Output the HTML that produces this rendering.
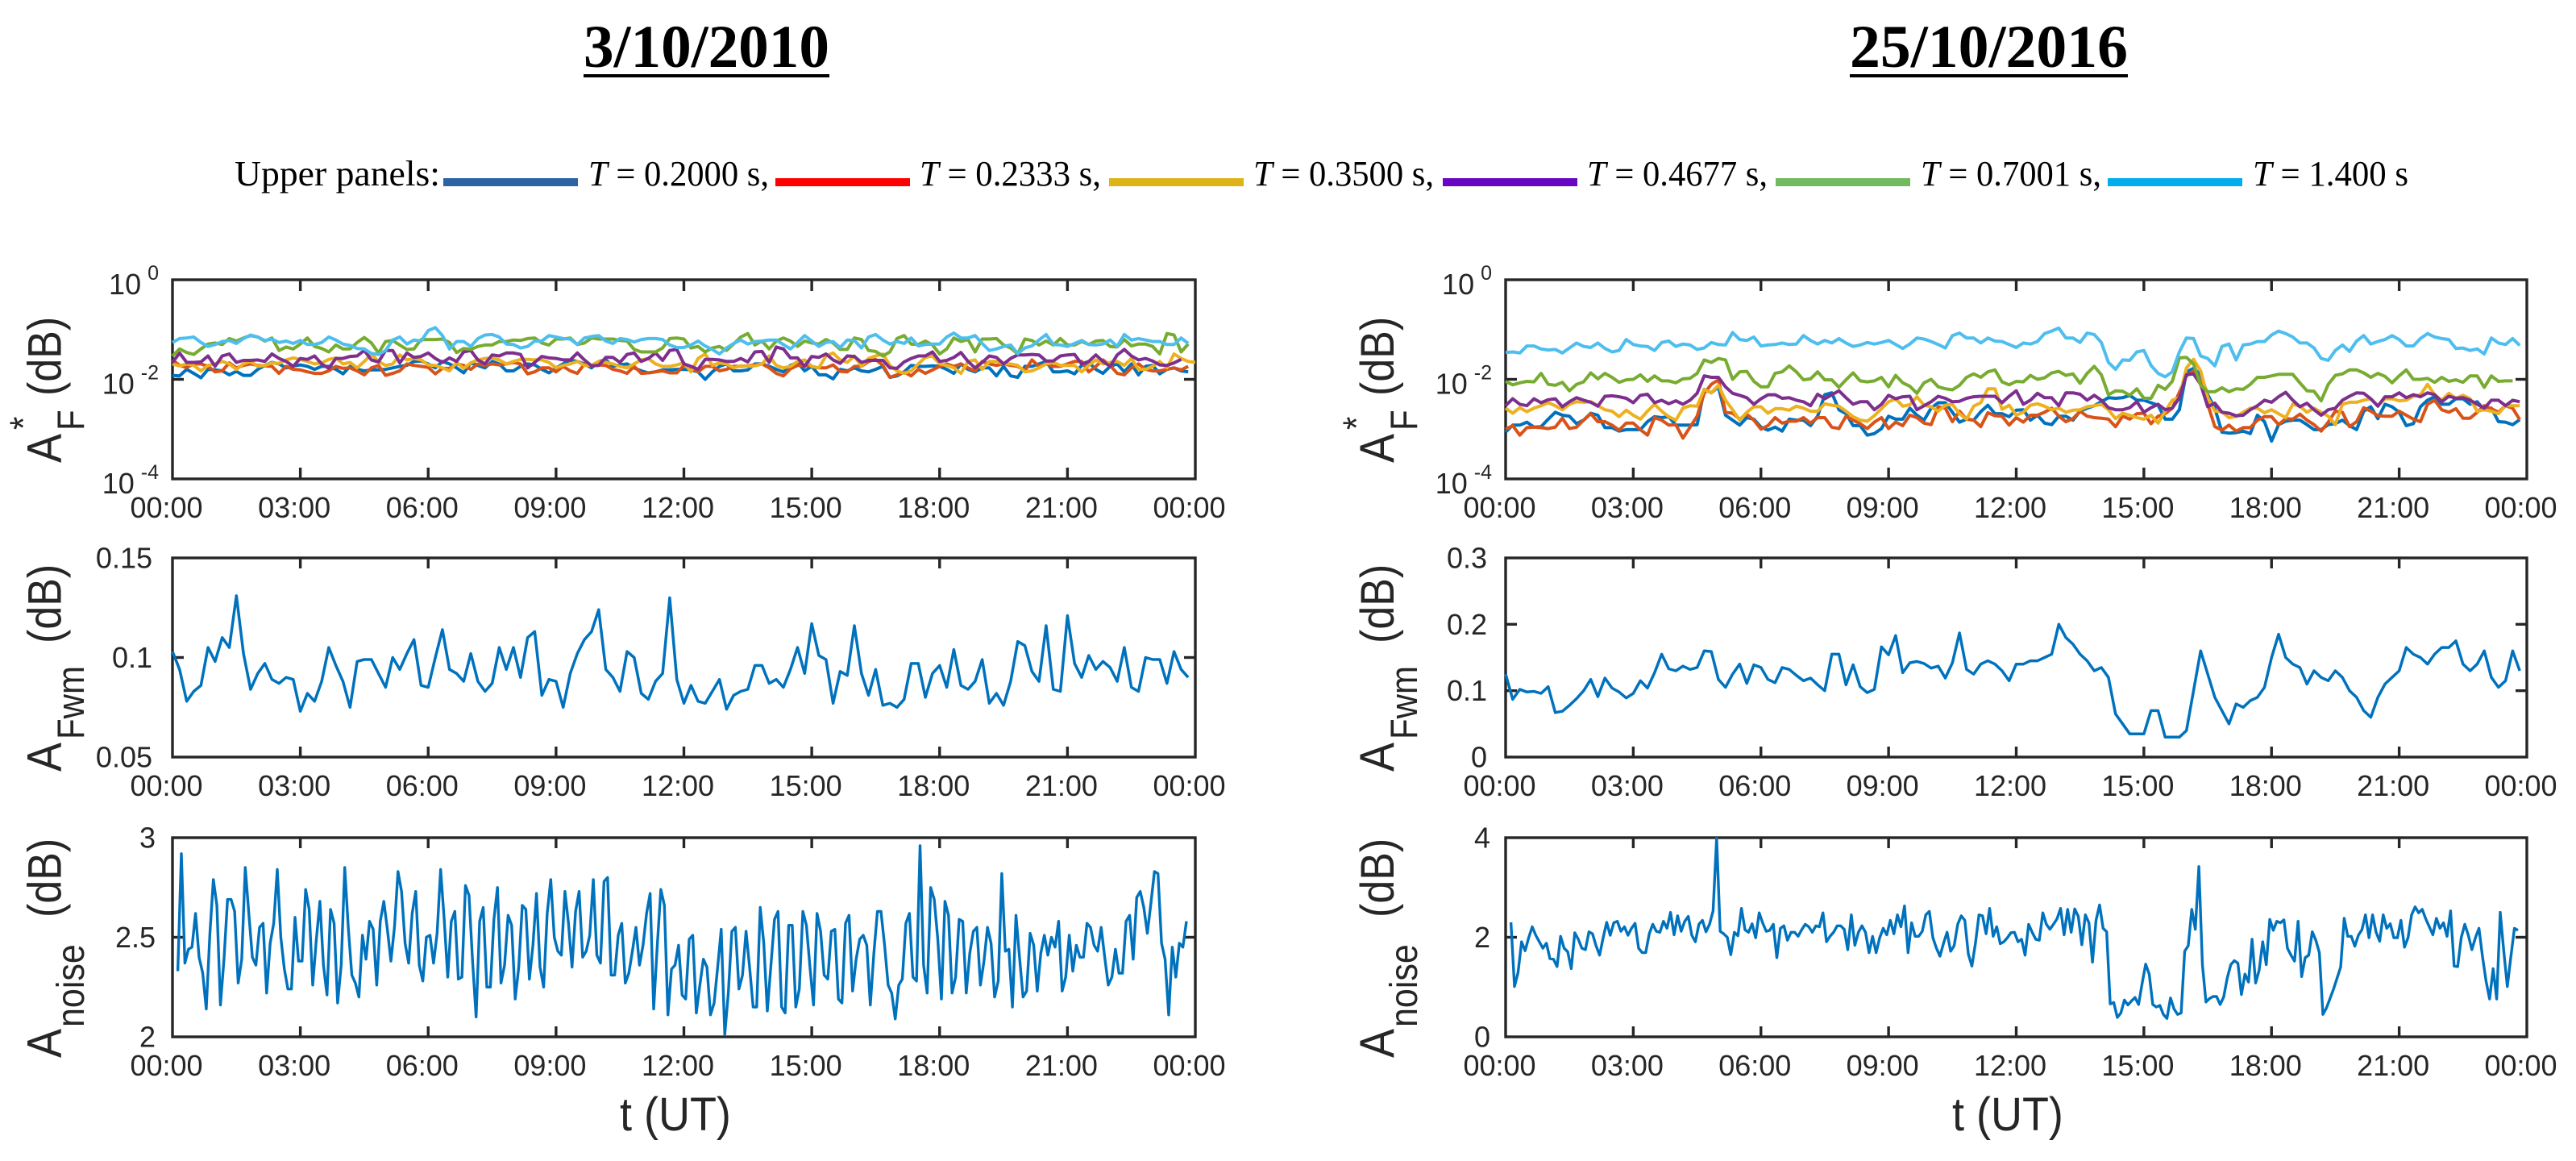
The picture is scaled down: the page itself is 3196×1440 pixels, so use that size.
<!DOCTYPE html>
<html lang="en">
<head>
<meta charset="utf-8">
<title>Amplitude time series: 3/10/2010 and 25/10/2016</title>
<style>
html,body{margin:0;padding:0;background:#fff;}
svg{display:block;}
text{font-family:"Liberation Sans",sans-serif;fill:#262626;}
.serif{font-family:"Liberation Serif",serif;fill:#000;}
</style>
</head>
<body>
<svg id="figure" xmlns="http://www.w3.org/2000/svg" width="3196" height="1440" viewBox="0 0 3196 1440">
<rect width="3196" height="1440" fill="#fff"/>
<text class="serif" x="724" y="83" font-size="75" font-weight="bold" textLength="305" lengthAdjust="spacingAndGlyphs">3/10/2010</text>
<rect x="724" y="92" width="305" height="4" fill="#000"/>
<text class="serif" x="2295" y="83" font-size="75" font-weight="bold" textLength="345" lengthAdjust="spacingAndGlyphs">25/10/2016</text>
<rect x="2295" y="92" width="345" height="4" fill="#000"/>

<g>
<text class="serif" x="291" y="230" font-size="44" textLength="255" lengthAdjust="spacingAndGlyphs">Upper panels:</text>
<rect x="550" y="221" width="167" height="10" fill="#2B63A3"/>
<text class="serif" x="730" y="230" font-size="44" textLength="224" lengthAdjust="spacingAndGlyphs"><tspan font-style="italic">T</tspan> = 0.2000 s,</text>
<rect x="962" y="221" width="167" height="10" fill="#FF0000"/>
<text class="serif" x="1141" y="230" font-size="44" textLength="225" lengthAdjust="spacingAndGlyphs"><tspan font-style="italic">T</tspan> = 0.2333 s,</text>
<rect x="1376" y="221" width="167" height="10" fill="#DEB317"/>
<text class="serif" x="1555" y="230" font-size="44" textLength="224" lengthAdjust="spacingAndGlyphs"><tspan font-style="italic">T</tspan> = 0.3500 s,</text>
<rect x="1790" y="221" width="167" height="10" fill="#6806C4"/>
<text class="serif" x="1969" y="230" font-size="44" textLength="224" lengthAdjust="spacingAndGlyphs"><tspan font-style="italic">T</tspan> = 0.4677 s,</text>
<rect x="2203" y="221" width="167" height="10" fill="#70BA60"/>
<text class="serif" x="2383" y="230" font-size="44" textLength="224" lengthAdjust="spacingAndGlyphs"><tspan font-style="italic">T</tspan> = 0.7001 s,</text>
<rect x="2615" y="221" width="167" height="10" fill="#00AEEF"/>
<text class="serif" x="2795" y="230" font-size="44" textLength="193" lengthAdjust="spacingAndGlyphs"><tspan font-style="italic">T</tspan> = 1.400 s</text>
</g>

<text transform="scale(1.12,1) rotate(-90)"><tspan x="-574" y="67.4" font-size="54">A</tspan><tspan x="-533" y="40.2" font-size="42">*</tspan><tspan x="-534" y="92.9" font-size="42">F</tspan><tspan x="-491" y="67.4" font-size="52">(dB)</tspan></text>
<text transform="scale(1.12,1) rotate(-90)"><tspan x="-957" y="67.4" font-size="54">A</tspan><tspan x="-917" y="92.9" font-size="42">Fwm</tspan><tspan x="-798" y="67.4" font-size="52">(dB)</tspan></text>
<text transform="scale(1.12,1) rotate(-90)"><tspan x="-1312" y="67.4" font-size="54">A</tspan><tspan x="-1274" y="92.9" font-size="43">noise</tspan><tspan x="-1138" y="67.4" font-size="52">(dB)</tspan></text>
<text transform="scale(1.12,1) rotate(-90)"><tspan x="-574" y="1543.8" font-size="54">A</tspan><tspan x="-533" y="1517" font-size="42">*</tspan><tspan x="-534" y="1569.6" font-size="42">F</tspan><tspan x="-491" y="1543.8" font-size="52">(dB)</tspan></text>
<text transform="scale(1.12,1) rotate(-90)"><tspan x="-957" y="1543.8" font-size="54">A</tspan><tspan x="-917" y="1569.6" font-size="42">Fwm</tspan><tspan x="-798" y="1543.8" font-size="52">(dB)</tspan></text>
<text transform="scale(1.12,1) rotate(-90)"><tspan x="-1312" y="1543.8" font-size="54">A</tspan><tspan x="-1274" y="1569.6" font-size="43">noise</tspan><tspan x="-1138" y="1543.8" font-size="52">(dB)</tspan></text>
<text transform="scale(1,1.08)" x="769" y="1298.1" font-size="54">t (UT)</text>
<text transform="scale(1,1.08)" x="2422" y="1298.1" font-size="54">t (UT)</text>
<g id="charts"></g>
</svg>

<script>
// Shared ticks
const hourTicks = [0, 3, 6, 9, 12, 15, 18, 21, 24];
const hourTickLabels = ['00:00', '03:00', '06:00', '09:00', '12:00', '15:00', '18:00', '21:00', '00:00'];
const afTickExponents = [0, -2, -4];
const afTickLabels = ['0', '-2', '-4'];
const fwmTicks2010 = [0.05, 0.1, 0.15];
const fwmTickLabels2010 = ['0.05', '0.1', '0.15'];
const fwmTicks2016 = [0, 0.1, 0.2, 0.3];
const fwmTickLabels2016 = ['0', '0.1', '0.2', '0.3'];
const noiseTicks2010 = [2, 2.5, 3];
const noiseTickLabels2010 = ['2', '2.5', '3'];
const noiseTicks2016 = [0, 2, 4];
const noiseTickLabels2016 = ['0', '2', '4'];
const seriesNames = ['t0200', 't0233', 't0350', 't0468', 't0700', 't1400'];
const seriesColors = ['#0072BD', '#D95319', '#EDB120', '#7E2F8E', '#77AC30', '#4DBEEE'];

// A*F, values are -log10(A) sampled every 10 minutes, 3/10/2010
const minusLogAF2010T0200 = [1.92,1.93,1.80,1.88,1.97,1.80,1.81,1.83,1.91,1.84,1.92,1.92,1.80,1.72,1.66,1.69,1.77,1.73,1.71,1.74,1.80,1.74,1.74,1.80,1.89,1.74,1.80,1.83,1.81,1.81,1.80,1.77,1.74,1.72,1.64,1.63,1.69,1.77,1.64,1.69,1.77,1.87,1.67,1.72,1.77,1.64,1.69,1.83,1.83,1.74,1.69,1.71,1.80,1.87,1.77,1.69,1.61,1.64,1.69,1.77,1.64,1.61,1.74,1.71,1.69,1.77,1.83,
1.87,1.85,1.81,1.81,1.80,1.80,1.81,1.85,2.00,1.85,1.74,1.69,1.83,1.83,1.81,1.69,1.69,1.74,1.80,1.85,1.72,1.66,1.83,1.74,1.91,1.91,1.99,1.80,1.83,1.77,1.83,1.85,1.80,1.74,1.96,1.93,1.85,1.72,1.74,1.74,1.73,1.74,1.80,1.88,1.69,1.80,1.85,1.77,1.77,1.93,1.74,1.93,1.96,1.74,1.74,1.69,1.64,1.85,1.85,1.83,1.89,1.72,1.66,1.80,1.88,1.74,1.69,1.85,1.69,1.91,1.74,1.72,1.89,1.80,1.77,1.83,1.85];
const minusLogAF2010T0233 = [1.61,1.72,1.76,1.69,1.69,1.74,1.85,1.83,1.67,1.77,1.72,1.69,1.72,1.73,1.74,1.88,1.74,1.80,1.81,1.85,1.88,1.88,1.83,1.74,1.78,1.77,1.83,1.91,1.77,1.72,1.92,1.88,1.83,1.69,1.72,1.74,1.76,1.89,1.78,1.78,1.69,1.72,1.80,1.69,1.72,1.69,1.71,1.69,1.66,1.69,1.89,1.85,1.77,1.77,1.85,1.74,1.83,1.88,1.69,1.72,1.71,1.72,1.80,1.83,1.88,1.74,1.88,
1.87,1.85,1.83,1.87,1.87,1.72,1.77,1.85,1.74,1.74,1.83,1.80,1.74,1.74,1.73,1.71,1.69,1.77,1.88,1.93,1.79,1.72,1.72,1.74,1.77,1.77,1.71,1.84,1.85,1.74,1.74,1.64,1.60,1.72,1.96,1.91,1.85,1.93,1.80,1.88,1.81,1.74,1.69,1.74,1.69,1.77,1.83,1.64,1.69,1.72,1.69,1.72,1.74,1.83,1.61,1.74,1.69,1.74,1.74,1.69,1.64,1.64,1.85,1.74,1.61,1.72,1.88,1.91,1.77,1.69,1.80,1.83,1.83,1.80,1.77,1.81,1.74];
const minusLogAF2010T0350 = [1.69,1.73,1.69,1.72,1.83,1.72,1.69,1.64,1.69,1.80,1.69,1.64,1.74,1.72,1.67,1.68,1.61,1.57,1.60,1.64,1.69,1.67,1.60,1.57,1.69,1.66,1.77,1.64,1.50,1.64,1.72,1.69,1.51,1.61,1.58,1.61,1.71,1.72,1.77,1.83,1.66,1.78,1.67,1.61,1.58,1.57,1.61,1.69,1.64,1.60,1.60,1.61,1.61,1.66,1.77,1.72,1.69,1.64,1.72,1.72,1.64,1.66,1.69,1.74,1.77,1.69,1.61,
1.58,1.69,1.74,1.74,1.71,1.67,1.85,1.58,1.49,1.72,1.67,1.69,1.77,1.73,1.74,1.73,1.69,1.53,1.72,1.77,1.74,1.64,1.61,1.74,1.77,1.53,1.47,1.61,1.66,1.53,1.74,1.58,1.53,1.49,1.72,1.83,1.88,1.83,1.69,1.56,1.53,1.69,1.72,1.77,1.88,1.64,1.61,1.80,1.64,1.64,1.69,1.69,1.72,1.85,1.83,1.77,1.69,1.66,1.72,1.72,1.72,1.85,1.72,1.61,1.69,1.66,1.64,1.72,1.58,1.80,1.80,1.74,1.64,1.77,1.49,1.58,1.64,1.66];
const minusLogAF2010T0468 = [1.66,1.47,1.66,1.66,1.65,1.53,1.74,1.53,1.49,1.66,1.62,1.62,1.61,1.64,1.49,1.58,1.64,1.74,1.58,1.60,1.53,1.69,1.78,1.58,1.58,1.54,1.53,1.42,1.61,1.65,1.42,1.42,1.67,1.47,1.56,1.54,1.47,1.58,1.66,1.57,1.64,1.45,1.42,1.61,1.69,1.51,1.53,1.47,1.47,1.50,1.77,1.66,1.54,1.57,1.58,1.61,1.61,1.47,1.61,1.73,1.72,1.56,1.56,1.66,1.50,1.47,1.64,
1.58,1.47,1.62,1.42,1.40,1.69,1.74,1.80,1.60,1.60,1.61,1.64,1.64,1.58,1.65,1.45,1.44,1.66,1.35,1.39,1.57,1.57,1.74,1.54,1.56,1.49,1.61,1.68,1.53,1.54,1.66,1.62,1.62,1.62,1.77,1.78,1.65,1.58,1.53,1.53,1.45,1.64,1.62,1.56,1.46,1.64,1.77,1.66,1.53,1.56,1.69,1.58,1.51,1.51,1.50,1.51,1.63,1.63,1.53,1.51,1.50,1.69,1.64,1.51,1.64,1.74,1.51,1.40,1.53,1.61,1.58,1.63,1.71,1.72,1.67,1.60];
const minusLogAF2010T0700 = [1.53,1.39,1.46,1.50,1.39,1.29,1.27,1.30,1.18,1.23,1.17,1.12,1.15,1.23,1.17,1.42,1.35,1.39,1.29,1.17,1.34,1.38,1.45,1.31,1.39,1.39,1.26,1.16,1.27,1.47,1.24,1.22,1.31,1.40,1.39,1.20,1.20,1.20,1.19,1.26,1.46,1.38,1.40,1.34,1.31,1.31,1.24,1.24,1.21,1.22,1.18,1.17,1.27,1.31,1.19,1.19,1.17,1.30,1.27,1.17,1.19,1.19,1.19,1.22,1.23,1.40,1.45,
1.45,1.45,1.37,1.18,1.17,1.19,1.37,1.34,1.45,1.37,1.34,1.42,1.29,1.15,1.08,1.31,1.23,1.39,1.23,1.17,1.23,1.34,1.23,1.27,1.29,1.20,1.27,1.40,1.40,1.17,1.20,1.42,1.44,1.53,1.45,1.18,1.12,1.29,1.30,1.23,1.31,1.49,1.39,1.17,1.24,1.20,1.45,1.19,1.19,1.18,1.31,1.37,1.49,1.19,1.22,1.31,1.23,1.31,1.18,1.31,1.31,1.24,1.30,1.23,1.22,1.34,1.35,1.20,1.33,1.29,1.29,1.34,1.49,1.08,1.11,1.45,1.29];
const minusLogAF2010T1400 = [1.26,1.18,1.17,1.15,1.26,1.34,1.30,1.24,1.22,1.28,1.18,1.11,1.15,1.22,1.19,1.26,1.23,1.28,1.22,1.30,1.30,1.26,1.15,1.21,1.29,1.32,1.38,1.39,1.48,1.50,1.42,1.21,1.15,1.29,1.21,1.23,1.02,0.96,1.12,1.39,1.24,1.24,1.34,1.18,1.11,1.10,1.15,1.29,1.30,1.37,1.34,1.23,1.23,1.12,1.15,1.18,1.19,1.30,1.17,1.14,1.12,1.23,1.28,1.18,1.20,1.25,1.20,
1.18,1.18,1.20,1.31,1.36,1.36,1.31,1.23,1.33,1.40,1.49,1.37,1.28,1.21,1.29,1.24,1.23,1.21,1.21,1.30,1.39,1.26,1.12,1.23,1.34,1.26,1.24,1.36,1.21,1.22,1.37,1.15,1.10,1.21,1.29,1.24,1.28,1.17,1.33,1.30,1.29,1.29,1.15,1.07,1.17,1.17,1.12,1.28,1.42,1.39,1.34,1.31,1.48,1.37,1.33,1.21,1.10,1.30,1.31,1.34,1.28,1.22,1.30,1.31,1.29,1.21,1.34,1.10,1.21,1.18,1.21,1.24,1.24,1.30,1.30,1.17,1.28];

// A*F, values are -log10(A) sampled every 10 minutes, 25/10/2016
const minusLogAF2016T0200 = [3.06,2.92,2.92,2.86,2.96,2.95,2.80,2.66,2.72,2.74,2.89,2.82,2.68,2.72,2.97,2.97,3.04,3.01,3.01,3.01,2.85,2.75,2.77,2.75,2.92,2.92,2.92,2.91,2.20,2.27,2.15,2.72,2.82,2.92,2.77,2.80,2.96,3.02,2.96,3.04,2.80,2.82,2.82,2.93,2.74,2.31,2.27,2.61,2.69,2.93,2.93,3.12,3.09,2.99,2.74,2.80,2.80,2.58,2.72,2.82,
2.58,2.47,2.47,2.66,2.86,2.80,2.82,2.65,2.52,2.69,2.69,2.75,2.62,2.61,2.82,2.72,2.88,2.91,2.74,2.74,2.82,2.64,2.58,2.53,2.45,2.37,2.38,2.37,2.32,2.42,2.42,2.47,2.52,2.80,2.80,2.61,1.85,1.78,1.91,2.31,2.58,3.06,3.08,3.07,3.04,3.09,2.72,2.85,3.24,2.91,2.84,2.82,2.82,2.91,3.01,3.01,2.91,2.89,2.82,2.93,3.01,2.64,2.55,2.79,2.50,2.55,2.66,2.93,2.89,2.55,2.42,2.35,2.50,2.50,2.39,2.39,2.50,2.45,2.61,2.58,2.85,2.86,2.91,2.81];
const minusLogAF2016T0233 = [3.00,2.93,3.12,2.97,2.96,2.97,2.99,2.96,2.78,2.99,2.96,2.82,2.69,2.85,2.85,2.92,3.02,2.88,2.88,3.01,3.12,2.77,2.82,2.92,2.91,3.18,2.96,2.74,2.28,2.10,2.01,2.66,2.68,2.80,2.70,2.82,3.00,2.93,2.77,2.88,2.84,2.84,2.77,2.88,2.77,2.77,2.96,2.99,2.74,2.82,2.89,2.99,2.86,2.77,2.99,2.86,2.93,2.72,2.77,2.88,
2.91,2.55,2.58,2.85,2.64,2.80,2.82,2.95,2.67,2.73,2.74,2.92,2.77,2.86,2.72,2.72,2.66,2.58,2.74,2.85,2.79,2.64,2.74,2.77,2.78,2.80,2.95,2.74,2.80,2.69,2.68,2.89,2.74,2.69,2.58,2.26,1.93,1.83,2.04,2.50,2.95,3.02,2.92,3.04,2.97,2.97,2.82,2.75,2.75,2.91,2.79,2.80,2.70,2.82,2.91,3.04,2.86,2.64,2.66,2.95,2.85,2.57,2.64,2.73,2.74,2.74,2.64,2.72,2.80,2.85,2.50,2.42,2.61,2.66,2.59,2.78,2.78,2.66,2.53,2.59,2.66,2.53,2.58,2.81];
const minusLogAF2016T0350 = [2.58,2.68,2.57,2.65,2.58,2.53,2.47,2.53,2.61,2.50,2.45,2.46,2.45,2.53,2.61,2.64,2.75,2.62,2.72,2.80,2.64,2.50,2.64,2.75,2.82,2.58,2.53,2.54,2.20,2.27,2.12,2.42,2.61,2.82,2.66,2.55,2.55,2.68,2.59,2.59,2.62,2.54,2.58,2.64,2.64,2.49,2.52,2.54,2.64,2.75,2.82,2.84,2.73,2.59,2.45,2.39,2.54,2.51,2.35,2.52,
2.55,2.64,2.52,2.50,2.69,2.80,2.54,2.47,2.19,2.19,2.60,2.52,2.72,2.66,2.52,2.49,2.54,2.61,2.58,2.66,2.62,2.61,2.55,2.53,2.50,2.61,2.79,2.68,2.72,2.77,2.80,2.72,2.88,2.64,2.42,2.37,1.77,1.60,1.83,2.37,2.64,2.65,2.77,2.75,2.66,2.58,2.58,2.67,2.61,2.69,2.77,2.50,2.54,2.66,2.58,2.66,2.74,2.91,2.50,2.46,2.46,2.42,2.39,2.53,2.39,2.39,2.43,2.42,2.34,2.31,2.10,2.31,2.42,2.28,2.38,2.32,2.39,2.64,2.61,2.64,2.69,2.53,2.53,2.53];
const minusLogAF2016T0468 = [2.53,2.39,2.50,2.53,2.39,2.47,2.41,2.39,2.55,2.45,2.37,2.42,2.46,2.54,2.34,2.33,2.35,2.38,2.47,2.32,2.30,2.47,2.42,2.49,2.43,2.50,2.42,2.28,1.93,1.96,1.96,2.15,2.28,2.32,2.37,2.50,2.39,2.31,2.31,2.38,2.37,2.42,2.45,2.53,2.30,2.39,2.31,2.23,2.37,2.50,2.45,2.45,2.61,2.50,2.32,2.39,2.35,2.34,2.61,2.53,
2.45,2.34,2.38,2.45,2.44,2.38,2.35,2.34,2.34,2.34,2.47,2.34,2.23,2.50,2.42,2.28,2.37,2.37,2.53,2.27,2.27,2.30,2.42,2.32,2.42,2.57,2.61,2.61,2.57,2.45,2.66,2.57,2.50,2.61,2.58,2.37,1.91,1.89,2.10,2.55,2.48,2.66,2.68,2.73,2.72,2.61,2.53,2.42,2.46,2.35,2.26,2.42,2.55,2.48,2.61,2.72,2.61,2.58,2.42,2.34,2.27,2.28,2.39,2.54,2.35,2.35,2.27,2.37,2.31,2.35,2.27,2.31,2.45,2.34,2.38,2.37,2.42,2.50,2.58,2.42,2.42,2.53,2.42,2.45];
const minusLogAF2016T0700 = [2.04,2.11,2.07,2.04,2.05,1.88,2.10,2.12,2.06,2.23,2.10,2.05,1.87,1.99,1.88,1.96,2.06,2.01,2.00,1.91,2.04,1.93,2.03,2.03,2.07,1.99,1.98,1.88,1.61,1.66,1.58,1.61,2.00,1.85,1.84,2.04,2.15,2.15,1.88,1.85,1.73,1.85,2.01,1.99,1.85,2.01,2.01,2.16,2.01,1.87,2.03,2.05,2.03,1.96,2.15,1.92,2.07,2.14,2.28,2.07,
2.00,2.15,2.19,2.21,2.12,1.96,1.89,1.96,1.85,1.81,2.05,2.11,2.04,2.05,1.92,2.00,1.97,1.87,1.84,1.92,1.89,2.08,1.88,1.74,1.91,2.31,2.23,2.24,2.32,2.19,2.38,2.38,2.12,2.20,2.04,1.57,1.56,1.69,2.12,2.25,2.25,2.17,2.25,2.19,2.20,2.10,1.96,1.96,1.93,1.90,1.90,1.90,2.07,2.23,2.24,2.43,2.10,1.92,1.89,1.81,1.81,1.87,1.96,1.88,1.94,2.07,1.93,1.81,2.00,2.00,1.98,2.06,1.96,2.04,2.01,2.06,1.93,1.93,2.16,1.93,2.04,2.03,2.03];
const minusLogAF2016T1400 = [1.46,1.45,1.47,1.33,1.33,1.39,1.41,1.40,1.47,1.37,1.27,1.34,1.36,1.27,1.38,1.45,1.42,1.20,1.30,1.33,1.34,1.42,1.26,1.23,1.34,1.29,1.31,1.40,1.37,1.26,1.30,1.31,1.06,1.20,1.22,1.15,1.33,1.31,1.30,1.27,1.30,1.29,1.12,1.22,1.29,1.22,1.27,1.18,1.27,1.34,1.31,1.26,1.29,1.26,1.22,1.30,1.38,1.29,1.17,1.19,
1.24,1.30,1.37,1.12,1.07,1.17,1.17,1.27,1.17,1.23,1.24,1.30,1.36,1.27,1.29,1.24,1.08,1.03,0.97,1.17,1.17,1.26,1.07,1.10,1.26,1.66,1.80,1.61,1.62,1.45,1.42,1.72,1.88,1.95,1.85,1.45,1.17,1.18,1.53,1.58,1.73,1.34,1.29,1.61,1.31,1.29,1.24,1.24,1.11,1.03,1.08,1.15,1.27,1.27,1.37,1.58,1.62,1.42,1.31,1.44,1.23,1.12,1.29,1.24,1.20,1.12,1.20,1.33,1.33,1.18,1.08,1.15,1.18,1.20,1.38,1.37,1.42,1.39,1.49,1.17,1.27,1.30,1.18,1.32];

// AFwm (dB), sampled every 10 minutes
const fwm2010 = [.103,.094,.078,.083,.086,.105,.098,.110,.105,.131,.102,.084,.092,.097,.089,.087,.090,.089,.073,.082,.078,.088,.105,.096,.088,.075,.098,.099,.099,.092,.085,.100,.094,.102,.109,.086,.085,.100,.114,.094,.092,.088,.102,.088,.083,.087,.105,.094,.105,.090,.110,.113,.081,.089,.088,.075,.092,.102,.109,.113,.124,.094,.090,.083,.103,.100,.082,
.079,.088,.092,.130,.089,.077,.086,.078,.077,.083,.089,.074,.081,.083,.084,.096,.096,.087,.089,.085,.094,.105,.092,.117,.101,.099,.077,.093,.091,.116,.092,.081,.094,.076,.077,.075,.079,.097,.097,.080,.092,.096,.085,.104,.086,.084,.088,.099,.077,.082,.076,.088,.108,.106,.093,.088,.116,.084,.083,.121,.097,.090,.101,.094,.098,.095,.088,.105,.085,.083,.100,.099,.099,.087,.103,.094,.090];
const fwm2016 = [.125,.087,.102,.098,.099,.096,.106,.067,.069,.078,.088,.100,.117,.091,.119,.104,.098,.089,.096,.115,.104,.127,.155,.133,.130,.137,.132,.135,.160,.159,.117,.105,.125,.140,.111,.139,.135,.117,.112,.135,.132,.123,.115,.119,.109,.100,.155,.155,.109,.139,.106,.097,.102,.166,.154,.183,.127,.142,.144,.141,.134,.137,.119,.142,.187,.132,
.125,.140,.145,.140,.130,.115,.140,.140,.145,.145,.150,.155,.200,.180,.170,.155,.145,.130,.135,.120,.065,.050,.035,.035,.035,.070,.070,.030,.030,.030,.040,.100,.160,.125,.090,.070,.050,.080,.075,.085,.090,.105,.150,.185,.150,.140,.135,.110,.130,.120,.115,.130,.120,.100,.090,.070,.060,.090,.110,.120,.130,.165,.155,.150,.140,.155,.165,.165,.175,.140,.130,.140,.160,.120,.105,.115,.160,.130];

// Anoise (dB), sampled every 5 minutes starting at 00:07:30
const noise2010 = [2.33,2.92,2.37,2.44,2.45,2.62,2.40,2.32,2.14,2.51,2.79,2.66,2.16,2.39,2.69,2.69,2.63,2.27,2.39,2.85,2.62,2.40,2.36,2.55,2.57,2.22,2.47,2.57,2.84,2.50,2.34,2.24,2.24,2.60,2.38,2.38,2.74,2.64,2.26,2.49,2.68,2.36,2.21,2.64,2.57,2.17,2.36,2.85,2.55,2.31,2.27,2.20,2.51,2.39,2.58,2.54,2.26,2.58,2.68,2.54,2.38,2.55,2.83,2.73,2.47,2.37,2.62,2.73,2.36,2.28,2.50,2.51,2.37,2.52,2.84,2.59,2.30,2.58,2.63,2.29,2.30,2.76,2.71,2.38,2.10,2.58,2.65,2.25,2.25,2.59,2.75,2.27,2.36,2.61,2.56,2.19,2.35,2.66,2.64,2.29,2.46,2.72,2.35,2.25,2.62,2.79,2.50,2.43,2.41,2.73,2.57,2.35,2.63,2.73,2.40,2.43,2.51,2.79,2.41,2.37,2.78,2.80,2.31,2.31,2.51,2.57,2.27,2.32,2.43,2.55,2.36,2.46,
2.62,2.72,2.14,2.46,2.74,2.66,2.11,2.34,2.36,2.46,2.21,2.19,2.49,2.51,2.12,2.26,2.39,2.35,2.11,2.17,2.35,2.54,2.01,2.22,2.53,2.55,2.24,2.31,2.53,2.35,2.15,2.15,2.65,2.47,2.13,2.36,2.59,2.63,2.15,2.12,2.56,2.56,2.15,2.24,2.63,2.56,2.35,2.16,2.62,2.53,2.31,2.29,2.53,2.54,2.19,2.17,2.57,2.61,2.23,2.39,2.49,2.51,2.46,2.16,2.42,2.63,2.63,2.46,2.26,2.22,2.09,2.26,2.29,2.57,2.62,2.30,2.28,2.96,2.36,2.22,2.75,2.69,2.49,2.19,2.68,2.61,2.22,2.30,2.59,2.58,2.22,2.42,2.53,2.55,2.26,2.38,2.55,2.47,2.20,2.28,2.82,2.43,2.44,2.15,2.61,2.40,2.20,2.23,2.52,2.46,2.23,2.42,2.51,2.41,2.50,2.45,2.58,2.23,2.30,2.51,2.33,2.46,2.40,2.40,2.57,2.55,2.46,2.43,2.55,2.40,2.26,2.30,2.44,2.32,2.32,2.58,2.61,2.39,2.70,2.73,2.65,2.52,2.67,2.83,2.82,2.47,2.39,2.11,2.45,2.30,2.47,2.45,2.58];
const noise2016 = [2.30,1.01,1.29,1.91,1.73,1.99,2.21,2.04,1.91,1.78,1.88,1.57,1.56,1.41,2.02,1.78,1.71,1.37,2.09,1.96,1.78,1.75,2.11,2.07,1.83,1.64,1.99,2.30,2.04,2.29,2.32,2.12,2.21,2.04,2.18,2.28,1.78,1.69,1.69,2.07,2.26,2.12,2.10,2.32,2.18,2.50,2.05,2.43,2.12,2.32,2.42,2.04,1.91,2.26,2.34,2.11,2.26,2.53,3.99,2.12,2.07,2.00,1.65,2.10,2.03,2.58,2.15,2.10,2.27,1.99,2.49,2.29,2.12,2.14,2.26,1.59,2.18,2.23,1.94,2.10,2.10,2.02,2.15,2.26,2.21,2.10,2.23,2.21,2.49,1.91,2.02,2.10,2.23,2.23,2.16,1.75,2.45,1.84,2.10,2.23,2.10,1.69,2.02,1.69,1.99,2.18,2.05,2.34,2.07,2.45,2.21,2.63,1.69,2.29,2.02,2.02,2.12,2.45,2.52,1.99,1.78,1.62,1.88,2.10,1.72,1.83,2.26,2.43,2.34,
1.66,1.42,1.88,2.45,2.43,2.07,2.58,2.02,2.21,1.87,1.91,1.99,2.09,2.10,1.91,1.96,1.64,2.26,2.10,1.96,1.94,2.49,2.26,2.16,2.26,2.37,2.58,2.05,2.56,2.10,2.57,2.42,1.85,2.45,2.29,1.50,2.34,2.65,2.18,2.11,.66,.69,.39,.48,.74,.64,.72,.79,.65,1.07,1.46,1.26,.65,.60,.63,.45,.37,.78,.56,.45,.48,1.72,1.83,2.56,2.16,3.42,1.45,.70,.77,.81,.81,.65,.80,1.18,1.45,1.53,1.48,.85,1.26,1.10,1.96,1.08,1.34,1.91,1.45,2.36,2.14,2.32,2.29,2.35,1.78,1.64,1.52,2.32,1.21,1.59,1.64,2.11,1.94,1.69,.45,.58,.77,.96,1.18,1.40,2.38,2.02,2.02,1.82,2.04,2.15,2.45,1.99,2.45,2.10,1.92,2.45,2.18,2.27,1.99,1.99,2.34,1.80,1.99,2.45,2.61,2.49,2.56,2.37,2.21,2.05,2.38,2.18,2.29,2.02,2.53,1.42,1.41,1.99,2.26,2.04,1.75,1.99,2.18,1.61,1.12,.76,1.37,.76,2.50,1.72,1.01,1.61,2.18,2.14];

const chartsGroup = document.getElementById('charts');
const svgNS = 'http://www.w3.org/2000/svg';
const AXIS_COLOR = '#262626';
const COL_LEFT = { x: 214, w: 1269 };
const COL_RIGHT = { x: 1868, w: 1267 };
const ROW_AF = { top: 347, bottom: 594 };
const ROW_FWM = { top: 692, bottom: 939 };
const ROW_NOISE = { top: 1039, bottom: 1286 };

function make(tag, parent) {
  const el = document.createElementNS(svgNS, tag);
  parent.appendChild(el);
  return el;
}
function timeScale(col) {
  return function (minutes) { return col.x + minutes / 1440 * col.w; };
}
function linearScale(row, lo, hi) {
  return function (v) { return row.bottom - (v - lo) / (hi - lo) * (row.bottom - row.top); };
}
function logDepthScale(row, decades) {
  return function (depth) { return row.top + depth / decades * (row.bottom - row.top); };
}

function drawFrame(g, prefix, col, row, tickLen) {
  const x = timeScale(col);
  const frame = make('rect', g);
  
  
  frame.setAttribute('x', col.x);
  frame.setAttribute('y', row.top);
  frame.setAttribute('width', col.w);
  frame.setAttribute('height', row.bottom - row.top);
  frame.setAttribute('fill', 'none');
  frame.setAttribute('stroke', AXIS_COLOR);
  frame.setAttribute('stroke-width', '3.4');
  hourTicks.forEach(function (h, idx) {
    const px = x(h * 60);
    if (idx > 0 && idx < hourTicks.length - 1) {
      const bottomTick = make('line', g);
      
      
      bottomTick.setAttribute('x1', px);
      bottomTick.setAttribute('x2', px);
      bottomTick.setAttribute('y1', row.bottom);
      bottomTick.setAttribute('y2', row.bottom - tickLen);
      bottomTick.setAttribute('stroke', AXIS_COLOR);
      bottomTick.setAttribute('stroke-width', '3.4');
      const topTick = make('line', g);
      
      
      topTick.setAttribute('x1', px);
      topTick.setAttribute('x2', px);
      topTick.setAttribute('y1', row.top);
      topTick.setAttribute('y2', row.top + tickLen);
      topTick.setAttribute('stroke', AXIS_COLOR);
      topTick.setAttribute('stroke-width', '3.4');
    }
    const label = make('text', g);
    
    
    label.setAttribute('x', px - 7.5);
    label.setAttribute('y', row.bottom + 48);
    label.setAttribute('font-size', '36');
    label.setAttribute('text-anchor', 'middle');
    label.textContent = hourTickLabels[idx];
  });
}

function drawYTick(g, prefix, col, py) {
  [[col.x, col.x + 14], [col.x + col.w, col.x + col.w - 14]].forEach(function (ends) {
    const tick = make('line', g);
    
    
    tick.setAttribute('x1', ends[0]);
    tick.setAttribute('x2', ends[1]);
    tick.setAttribute('y1', py);
    tick.setAttribute('y2', py);
    tick.setAttribute('stroke', AXIS_COLOR);
    tick.setAttribute('stroke-width', '3.4');
  });
}

function drawLinearYAxis(g, prefix, col, y, ticks, labels, offset) {
  ticks.forEach(function (v, idx) {
    const py = y(v);
    if (py > y.topEdge + 1 && py < y.bottomEdge - 1) {
      drawYTick(g, prefix, col, py);
    }
    const label = make('text', g);
    
    
    label.setAttribute('x', col.x - offset);
    label.setAttribute('y', py + 12.5);
    label.setAttribute('font-size', '36');
    label.setAttribute('text-anchor', 'end');
    label.textContent = labels[idx];
  });
}

function drawLogYAxis(g, prefix, col, y) {
  afTickExponents.forEach(function (exp, idx) {
    const py = y(-exp);
    if (py > y.topEdge + 1 && py < y.bottomEdge - 1) {
      drawYTick(g, prefix, col, py);
    }
    const label = make('text', g);
    
    
    label.setAttribute('x', col.x - 17);
    label.setAttribute('y', py + 18);
    label.setAttribute('text-anchor', 'end');
    const base = make('tspan', label);
    base.setAttribute('font-size', '36');
    base.textContent = '10';
    const sup = make('tspan', label);
    sup.setAttribute('font-size', '25');
    sup.setAttribute('dx', '8');
    sup.setAttribute('dy', '-18');
    sup.textContent = afTickLabels[idx];
  });
}

function drawLine(g, name, values, x, y, startMinute, stepMinutes, color, width) {
  const pts = values.map(function (v, i) {
    return x(startMinute + i * stepMinutes).toFixed(1) + ',' + y(v).toFixed(1);
  });
  const line = make('polyline', g);
  
  
  line.setAttribute('points', pts.join(' '));
  line.setAttribute('fill', 'none');
  line.setAttribute('stroke', color);
  line.setAttribute('stroke-width', width);
  line.setAttribute('stroke-linejoin', 'round');
}

function drawAfPanel(prefix, col, seriesList) {
  const g = make('g', chartsGroup);
  
  
  const y = logDepthScale(ROW_AF, 4);
  y.topEdge = ROW_AF.top;
  y.bottomEdge = ROW_AF.bottom;
  drawFrame(g, prefix, col, ROW_AF, 14);
  drawLogYAxis(g, prefix, col, y);
  const x = timeScale(col);
  seriesList.forEach(function (values, idx) {
    drawLine(g, prefix + '-line-' + seriesNames[idx], values, x, y, 0, 10, seriesColors[idx], '4');
  });
}

function drawLinearPanel(prefix, col, row, lo, hi, ticks, labels, offset, values, start, step, width) {
  const g = make('g', chartsGroup);
  
  
  const y = linearScale(row, lo, hi);
  y.topEdge = row.top;
  y.bottomEdge = row.bottom;
  drawFrame(g, prefix, col, row, 13);
  drawLinearYAxis(g, prefix, col, y, ticks, labels, offset);
  drawLine(g, prefix + '-line', values, timeScale(col), y, start, step, seriesColors[0], width);
}

drawAfPanel('af-2010', COL_LEFT, [minusLogAF2010T0200, minusLogAF2010T0233, minusLogAF2010T0350, minusLogAF2010T0468, minusLogAF2010T0700, minusLogAF2010T1400]);
drawAfPanel('af-2016', COL_RIGHT, [minusLogAF2016T0200, minusLogAF2016T0233, minusLogAF2016T0350, minusLogAF2016T0468, minusLogAF2016T0700, minusLogAF2016T1400]);
drawLinearPanel('fwm-2010', COL_LEFT, ROW_FWM, 0.05, 0.15, fwmTicks2010, fwmTickLabels2010, 25, fwm2010, 0, 10, '3.5');
drawLinearPanel('fwm-2016', COL_RIGHT, ROW_FWM, 0, 0.3, fwmTicks2016, fwmTickLabels2016, 23, fwm2016, 0, 10, '3.5');
drawLinearPanel('noise-2010', COL_LEFT, ROW_NOISE, 2, 3, noiseTicks2010, noiseTickLabels2010, 21, noise2010, 7.5, 5, '3.4');
drawLinearPanel('noise-2016', COL_RIGHT, ROW_NOISE, 0, 4, noiseTicks2016, noiseTickLabels2016, 19, noise2016, 7.5, 5, '3.4');
</script>
</body>
</html>
